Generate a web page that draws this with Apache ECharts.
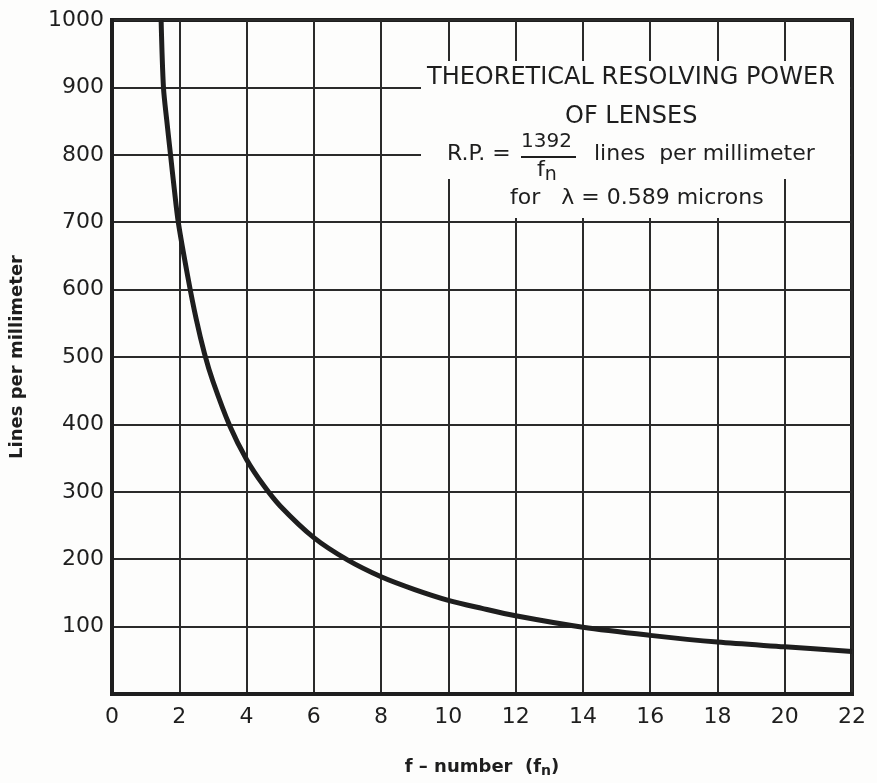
<!DOCTYPE html>
<html>
<head>
<meta charset="utf-8">
<script src="https://cdn.jsdelivr.net/npm/echarts@6/dist/echarts.min.js"></script>
<style>
  html, body { margin: 0; padding: 0; background: #fdfdfc; }
  #main { width: 877px; height: 783px; }
</style>
</head>
<body>
<div id="main"></div>
<script>
// f-number values and resolving power
var fNumbers = [1.46, 1.53, 1.63, 1.74, 1.85, 1.97, 2.25, 2.5, 2.75, 3, 3.5, 4, 4.5, 5, 6, 7, 8, 9, 10, 11, 12, 14, 16, 18, 20, 22];
var linesPerMm = [1000, 900, 850, 800, 750, 700, 620, 557, 505, 464, 398, 348, 310, 279, 232, 199, 174, 155, 139, 127, 116, 99, 87, 77, 70, 63];
var xTicks = [0, 2, 4, 6, 8, 10, 12, 14, 16, 18, 20, 22];
var yTicks = [100, 200, 300, 400, 500, 600, 700, 800, 900, 1000];

var ink = '#1e1e1e';
var paper = '#fdfdfc';
var font = 'DejaVu Sans';

var myChart = echarts.init(document.getElementById('main'));

var points = fNumbers.map(function (f, i) { return [f, linesPerMm[i]]; });

var option = {
    backgroundColor: paper,
    animation: false,
    grid: {
        left: 111, right: 25, top: 20, bottom: 77,
        show: true, borderColor: ink, borderWidth: 4
    },
    xAxis: {
        type: 'value', min: 0, max: 22, interval: 2,
        name: 'f \u2013 number  (f{sub|n})',
        nameLocation: 'middle', nameGap: 62,
        nameTextStyle: {
            color: ink, fontFamily: font, fontSize: 18, fontWeight: 'bold',
            rich: { sub: { fontSize: 14, fontWeight: 'bold', fontFamily: font, color: ink, verticalAlign: 'bottom', padding: [8, 0, 0, 0] } }
        },
        axisLine: { show: true, lineStyle: { color: ink, width: 4 } },
        axisTick: { show: false },
        axisLabel: {
            color: ink, fontFamily: font, fontSize: 22, margin: 12,
            formatter: function (v) { return xTicks.indexOf(v) >= 0 ? String(v) : ''; }
        },
        splitLine: { show: true, lineStyle: { color: '#2a2a2a', width: 2 } }
    },
    yAxis: {
        type: 'value', min: 0, max: 1000, interval: 100,
        name: 'Lines per millimeter',
        nameLocation: 'middle', nameGap: 86,
        nameTextStyle: { color: ink, fontFamily: font, fontSize: 18, fontWeight: 'bold' },
        axisLine: { show: true, lineStyle: { color: ink, width: 4 } },
        axisTick: { show: false },
        axisLabel: {
            color: ink, fontFamily: font, fontSize: 22, margin: 8,
            formatter: function (v) { return yTicks.indexOf(v) >= 0 ? String(v) : ''; }
        },
        splitLine: { show: true, lineStyle: { color: '#2a2a2a', width: 2 } }
    },
    series: [{
        type: 'line',
        data: points,
        smooth: 0.3,
        symbol: 'none',
        clip: true,
        lineStyle: { color: ink, width: 5 },
        z: 5
    }],
    graphic: [
        // white patches behind the caption
        { type: 'rect', z: 50, shape: { x: 421, y: 61, width: 429, height: 118 }, style: { fill: paper } },
        { type: 'rect', z: 50, shape: { x: 455, y: 178, width: 328, height: 40 }, style: { fill: paper } },
        {
            type: 'text', z: 51, left: 427, top: 66,
            style: { text: 'THEORETICAL RESOLVING POWER', fontFamily: font, fontSize: 24, fill: ink }
        },
        {
            type: 'text', z: 51, left: 565, top: 105,
            style: { text: 'OF LENSES', fontFamily: font, fontSize: 24, fill: ink }
        },
        {
            type: 'text', z: 51, left: 447, top: 143,
            style: { text: 'R.P. =', fontFamily: font, fontSize: 22, fill: ink }
        },
        {
            type: 'text', z: 51, left: 521, top: 132,
            style: { text: '1392', fontFamily: font, fontSize: 20, fill: ink }
        },
        { type: 'line', z: 51, shape: { x1: 521, y1: 157, x2: 576, y2: 157 }, style: { stroke: ink, lineWidth: 2 } },
        {
            type: 'text', z: 51, left: 537, top: 159,
            style: {
                text: 'f{sub|n}', fontFamily: font, fontSize: 22, fill: ink,
                rich: { sub: { fontFamily: font, fontSize: 19, fill: ink, padding: [10, 0, 0, 0] } }
            }
        },
        {
            type: 'text', z: 51, left: 594, top: 143,
            style: { text: 'lines  per millimeter', fontFamily: font, fontSize: 22, fill: ink }
        },
        {
            type: 'text', z: 51, left: 510, top: 187,
            style: { text: 'for   \u03bb = 0.589 microns', fontFamily: font, fontSize: 22, fill: ink }
        }
    ]
};

myChart.setOption(option);
</script>
</body>
</html>
